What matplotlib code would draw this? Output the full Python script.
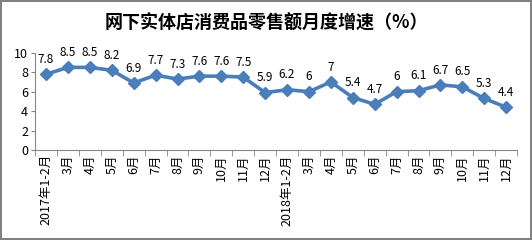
import matplotlib.pyplot as plt
import numpy as np

plt.rcParams['font.family'] = ['Noto Sans CJK SC', 'DejaVu Sans']

months = ['2017年1-2月', '3月', '4月', '5月', '6月', '7月', '8月', '9月', '10月', '11月', '12月',
          '2018年1-2月', '3月', '4月', '5月', '6月', '7月', '8月', '9月', '10月', '11月', '12月']
growth = [7.8, 8.5, 8.5, 8.2, 6.9, 7.7, 7.3, 7.6, 7.6, 7.5, 5.9,
          6.2, 6, 7, 5.4, 4.7, 6, 6.1, 6.7, 6.5, 5.3, 4.4]
labels = ['7.8', '8.5', '8.5', '8.2', '6.9', '7.7', '7.3', '7.6', '7.6', '7.5', '5.9',
          '6.2', '6', '7', '5.4', '4.7', '6', '6.1', '6.7', '6.5', '5.3', '4.4']

fig = plt.figure(figsize=(5.32, 2.4), dpi=100)
fig.patch.set_edgecolor('#808080')
fig.patch.set_linewidth(1.5)
ax = fig.add_axes([0.066, 0.375, 0.906, 0.405])

x = np.arange(len(growth))
ax.plot(x, growth, color='#4A7EBB', lw=2.6, marker='D', ms=6, mfc='#4A7EBB', mec='#4A7EBB')

for xi, yi, s in zip(x, growth, labels):
    ax.annotate(s, (xi, yi), xytext=(0, 6), textcoords='offset points',
                ha='center', va='bottom', fontsize=8.5)

ax.set_xlim(-0.5, len(growth) - 0.5)
ax.set_ylim(0, 10)
ax.set_yticks([0, 2, 4, 6, 8, 10])
ax.set_xticks(x)
ax.set_xticklabels(months, rotation=90, fontsize=9)
ax.set_xticks(np.arange(-0.5, len(growth), 1), minor=True)
ax.tick_params(axis='x', which='major', length=0, pad=3)
ax.tick_params(axis='x', which='minor', length=4, color='#868686')
ax.tick_params(axis='y', length=3, color='#868686', labelsize=9, pad=2)

for s in ['top', 'right']:
    ax.spines[s].set_visible(False)
for s in ['left', 'bottom']:
    ax.spines[s].set_color('#868686')

fig.text(0.5, 0.905, '网下实体店消费品零售额月度增速（%）', ha='center', va='center',
         fontsize=13, fontweight='bold')

fig.savefig('out.png', dpi=100, edgecolor=fig.get_edgecolor())
